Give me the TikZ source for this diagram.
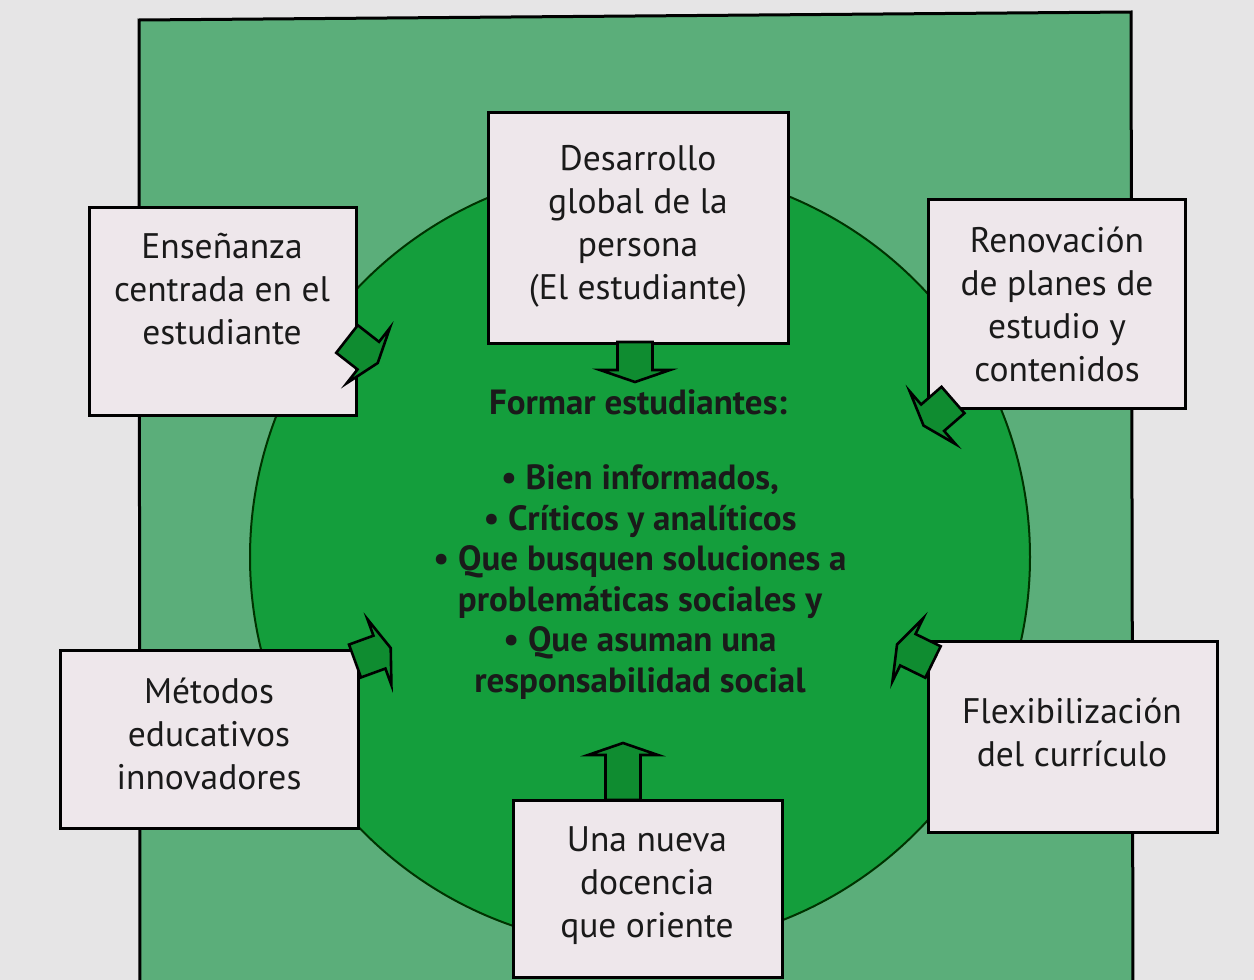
\documentclass[tikz,border=0pt]{standalone}
\usepackage{fontspec}
\setmainfont{PT Sans}
\definecolor{bg}{HTML}{E6E5E6}
\definecolor{outergreen}{HTML}{5BAE7A}
\definecolor{circgreen}{HTML}{149E3C}
\definecolor{arrowgreen}{HTML}{0F8C30}
\definecolor{boxfill}{HTML}{EEE7EB}
\definecolor{ink}{HTML}{1A1A1A}
\tikzset{
  box/.style={draw=black, line width=3pt, fill=boxfill, rectangle, inner sep=0pt},
  boxtext/.style={font=\fontsize{35.5}{43}\selectfont, align=center, text=ink, inner sep=0pt},
  centertext/.style={font=\bfseries\fontsize{35}{40.5}\selectfont, align=center, text=ink, inner sep=0pt},
  arrowstyle/.style={draw=black, line width=2.6pt, fill=arrowgreen, line join=miter},
  pics/blockarrow/.style={code={
    \draw[arrowstyle] (0,-17.5) -- (#1,-17.5) -- (#1,-35) -- ({#1+12},0) -- (#1,35) -- (#1,17.5) -- (0,17.5) -- cycle;}}
}
\begin{document}
\begin{tikzpicture}[x=1pt,y=-1pt]
\clip (0,0) rectangle (1254,980);
\fill[bg] (0,0) rectangle (1254,980);
% outer green square
\draw[fill=outergreen, line width=3pt] (139,20) -- (1131,12) -- (1133,995) -- (140,995) -- cycle;
% central circle
\node[circle, draw=black!80!green, line width=2pt, fill=circgreen, minimum size=780pt, inner sep=0pt] (c) at (640,557) {};
% boxes
\node[box, minimum width=300pt, minimum height=231pt] (b1) at (638,227.5) {};
\node[box, minimum width=267pt, minimum height=208pt] (b2) at (222.5,311) {};
\node[box, minimum width=257pt, minimum height=209pt] (b3) at (1056.5,303.5) {};
\node[box, minimum width=298pt, minimum height=178pt] (b4) at (209,739) {};
\node[box, minimum width=289pt, minimum height=191pt] (b5) at (1072.5,736.5) {};
\node[box, minimum width=269pt, minimum height=177pt] (b6) at (647.5,888.5) {};
% box texts
\node[boxtext] (t1) at (638,226) {Desarrollo\\global de la\\persona\\(El estudiante)};
\node[boxtext] (t2) at (222,289) {Enseñanza\\centrada en el\\estudiante};
\node[boxtext] (t3) at (1057,304) {Renovación\\de planes de\\estudio y\\contenidos};
\node[boxtext] (t4) at (209,734) {Métodos\\educativos\\innovadores};
\node[boxtext] (t5) at (1072,732) {Flexibilización\\del currículo};
\node[boxtext] (t6) at (647,886) {Una nueva\\docencia\\que oriente};
% centre text
\node[centertext] (f) at (638,402) {Formar estudiantes:};
\node[centertext] (l) at (640,582) {• Bien informados,\\• Críticos y analíticos\\• Que busquen soluciones a\\problemáticas sociales y\\• Que asuman una\\responsabilidad social};
% block arrows toward the centre
\pic[rotate=-90] at (635,342) {blockarrow=28};
\pic[rotate=90] at (623,800) {blockarrow=45};
\pic[rotate=-38] at (347,339) {blockarrow=27};
\pic[rotate=-139] at (953,400) {blockarrow=27};
\pic[rotate=20] at (355,661) {blockarrow=26};
\pic[rotate=154] at (933,662) {blockarrow=28};
\end{tikzpicture}
\end{document}
